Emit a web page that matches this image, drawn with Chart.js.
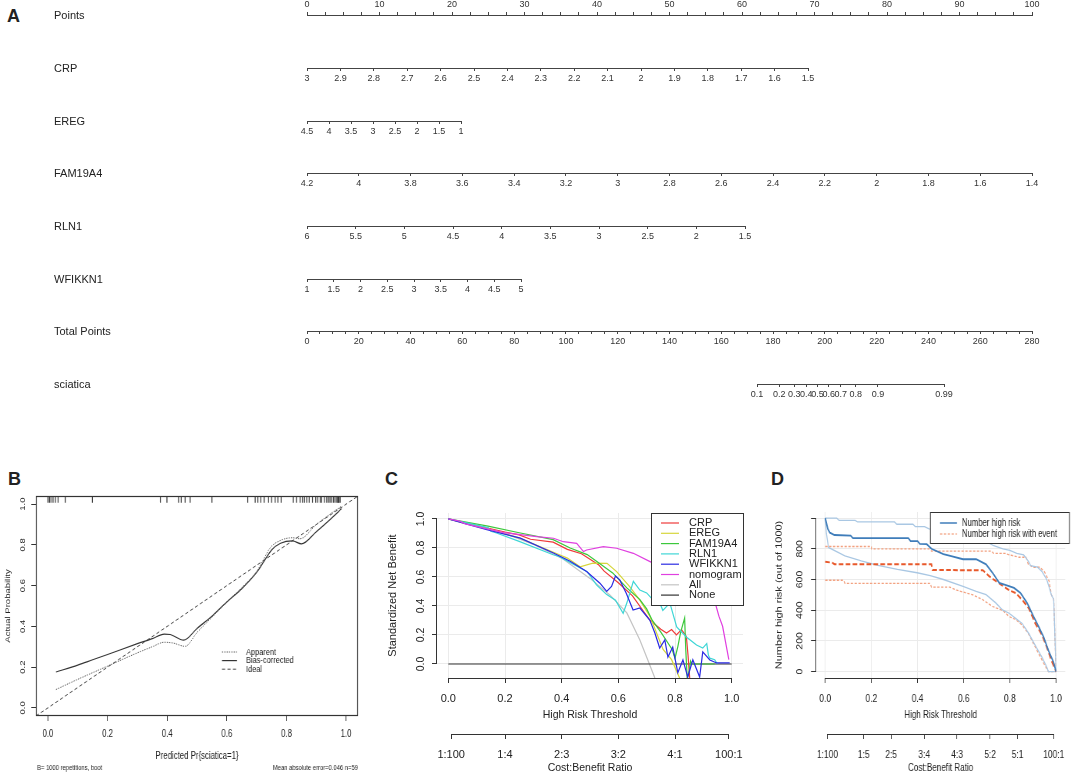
<!DOCTYPE html>
<html>
<head>
<meta charset="utf-8">
<script src="https://cdn.jsdelivr.net/npm/chart.js@4.4.1/dist/chart.umd.min.js"></script>
<style>
  html, body { margin: 0; padding: 0; background: #fff; overflow: hidden; }
  #page { position: relative; width: 1072px; height: 775px; overflow: hidden;
          font-family: 'Liberation Sans', Arial, sans-serif; color: #222; }
  #page canvas { position: absolute; }
  .tag { position: absolute; font-weight: bold; font-size: 18px; line-height: 1; }
  .row-name { position: absolute; left: 54px; font-size: 11px; line-height: 1; transform: translateY(-50%); }
</style>
</head>
<body>
<div id="page">
  <div class="tag" style="left:7px;top:7px">A</div>
  <div class="tag" style="left:8px;top:470px">B</div>
  <div class="tag" style="left:385px;top:470px">C</div>
  <div class="tag" style="left:771px;top:470px">D</div>
</div>
<script>
// ---------- data ----------
// A: nomogram axes (tick labels per row)
const rowNames = ['Points', 'CRP', 'EREG', 'FAM19A4', 'RLN1', 'WFIKKN1', 'Total Points', 'sciatica'];
const pointsTicks = [0, 10, 20, 30, 40, 50, 60, 70, 80, 90, 100];
const crpTicks = [3, 2.9, 2.8, 2.7, 2.6, 2.5, 2.4, 2.3, 2.2, 2.1, 2, 1.9, 1.8, 1.7, 1.6, 1.5];
const eregTicks = [4.5, 4, 3.5, 3, 2.5, 2, 1.5, 1];
const famTicks = [4.2, 4, 3.8, 3.6, 3.4, 3.2, 3, 2.8, 2.6, 2.4, 2.2, 2, 1.8, 1.6, 1.4];
const rlnTicks = [6, 5.5, 5, 4.5, 4, 3.5, 3, 2.5, 2, 1.5];
const wfTicks = [1, 1.5, 2, 2.5, 3, 3.5, 4, 4.5, 5];
const totalTicks = [0, 20, 40, 60, 80, 100, 120, 140, 160, 180, 200, 220, 240, 260, 280];
const riskTicks = [0.1, 0.2, 0.3, 0.4, 0.5, 0.6, 0.7, 0.8, 0.9, 0.99];

// B: calibration
const probTicks = [0, 0.2, 0.4, 0.6, 0.8, 1];
const rugPred = [0, 0.005, 0.01, 0.017, 0.025, 0.034, 0.058, 0.149, 0.377, 0.399, 0.438, 0.447, 0.46, 0.477,
  0.55, 0.67, 0.695, 0.704, 0.714, 0.725, 0.74, 0.75, 0.762, 0.771, 0.782, 0.823, 0.834, 0.846, 0.853, 0.86,
  0.868, 0.876, 0.887, 0.898, 0.905, 0.913, 0.918, 0.927, 0.935, 0.941, 0.946, 0.952, 0.958, 0.963, 0.969,
  0.972, 0.974, 0.976, 0.98];
const apparentCal = [[0.027, 0.09], [0.1, 0.14], [0.2, 0.205], [0.3, 0.27], [0.35, 0.3], [0.39, 0.322],
  [0.42, 0.318], [0.46, 0.302], [0.5, 0.37], [0.55, 0.445], [0.6, 0.52], [0.65, 0.59], [0.7, 0.67],
  [0.72, 0.72], [0.745, 0.785], [0.78, 0.822], [0.82, 0.835], [0.845, 0.83], [0.9, 0.9], [0.95, 0.955], [0.985, 0.99]];
const biasCal = [[0.027, 0.176], [0.1, 0.21], [0.15, 0.236], [0.2, 0.262], [0.3, 0.315], [0.35, 0.34],
  [0.39, 0.362], [0.41, 0.36], [0.455, 0.332], [0.5, 0.39], [0.55, 0.45], [0.6, 0.52], [0.65, 0.585],
  [0.7, 0.665], [0.725, 0.72], [0.75, 0.775], [0.78, 0.808], [0.82, 0.82], [0.85, 0.805], [0.9, 0.865],
  [0.95, 0.93], [0.985, 0.978]];
const idealCal = [[-0.04, -0.04], [1.04, 1.04]];

// C: decision curves (threshold, standardized net benefit)
const costBenefitC = ['1:100', '1:4', '2:3', '3:2', '4:1', '100:1'];
const crpNB = [[0, 1], [0.1, 0.955], [0.2, 0.91], [0.25, 0.89], [0.29, 0.86], [0.37, 0.84], [0.42, 0.79],
  [0.47, 0.76], [0.53, 0.685], [0.55, 0.64], [0.6, 0.56], [0.65, 0.47], [0.69, 0.36], [0.71, 0.306],
  [0.75, 0.24], [0.77, 0.214], [0.788, 0.237], [0.805, 0.2], [0.823, 0.237], [0.84, 0.19], [0.846, 0.06], [0.852, -0.1]];
const eregNB = [[0, 1], [0.05, 0.975], [0.14, 0.93], [0.25, 0.87], [0.31, 0.82], [0.39, 0.755], [0.42, 0.73],
  [0.465, 0.67], [0.51, 0.695], [0.56, 0.694], [0.594, 0.637], [0.64, 0.533], [0.676, 0.44], [0.711, 0.33],
  [0.735, 0.214], [0.758, 0.1], [0.788, 0.03], [0.817, -0.1]];
const famNB = [[0, 1], [0.14, 0.95], [0.25, 0.905], [0.37, 0.857], [0.43, 0.8], [0.49, 0.754], [0.54, 0.685],
  [0.58, 0.628], [0.63, 0.525], [0.676, 0.444], [0.7, 0.38], [0.72, 0.3], [0.75, 0.22], [0.77, 0.16],
  [0.79, 0.1], [0.8, 0.04], [0.81, 0.12], [0.82, 0.22], [0.834, 0.317], [0.838, 0.1], [0.843, -0.1],
  [0.85, -0.05], [0.855, 0.02], [0.86, 0], [0.94, 0]];
const rlnNB = [[0, 1], [0.14, 0.94], [0.15, 0.915], [0.17, 0.903], [0.25, 0.845], [0.37, 0.753], [0.39, 0.742],
  [0.49, 0.637], [0.523, 0.545], [0.558, 0.48], [0.59, 0.44], [0.617, 0.35], [0.63, 0.42], [0.653, 0.57],
  [0.676, 0.51], [0.7, 0.49], [0.723, 0.44], [0.74, 0.45], [0.757, 0.37], [0.782, 0.42], [0.806, 0.255],
  [0.84, 0.186], [0.876, 0.131], [0.898, 0.11], [0.912, 0.14], [0.918, 0.06], [0.923, 0.04], [0.94, 0.03], [0.95, 0]];
const wfNB = [[0, 1], [0.05, 0.972], [0.136, 0.926], [0.254, 0.868], [0.371, 0.765], [0.43, 0.708],
  [0.488, 0.637], [0.535, 0.557], [0.559, 0.5], [0.576, 0.534], [0.59, 0.607], [0.605, 0.58], [0.628, 0.488],
  [0.652, 0.372], [0.676, 0.386], [0.711, 0.303], [0.729, 0.214], [0.746, 0.11], [0.764, 0.166],
  [0.775, 0.048], [0.792, 0.117], [0.81, -0.06], [0.828, 0.028], [0.845, -0.09], [0.863, 0.028],
  [0.887, -0.09], [0.898, 0.083], [0.923, 0.028], [0.947, 0.007], [0.993, 0.007]];
const nomoNB = [[0, 1], [0.04, 0.985], [0.06, 0.966], [0.195, 0.906], [0.312, 0.878], [0.371, 0.867],
  [0.406, 0.843], [0.453, 0.832], [0.477, 0.775], [0.488, 0.786], [0.547, 0.809], [0.594, 0.798],
  [0.653, 0.763], [0.712, 0.706], [0.76, 0.66], [0.82, 0.6], [0.88, 0.52], [0.93, 0.45], [0.945, 0.4],
  [0.955, 0.33], [0.968, 0.26], [0.99, 0.03]];
const allNB = [[0, 1], [0.1, 0.955], [0.2, 0.9], [0.3, 0.825], [0.4, 0.73], [0.5, 0.59], [0.57, 0.476],
  [0.63, 0.352], [0.676, 0.166], [0.704, 0.028], [0.729, -0.097]];
const noneNB = [[0, 0], [1, 0]];

// D: clinical impact (threshold, number out of 1000)
const countTicks = [0, 200, 400, 600, 800, 1000];
const costBenefitD = ['1:100', '1:5', '2:5', '3:4', '4:3', '5:2', '5:1', '100:1'];
const highRisk = [[0, 1000], [0.011, 930], [0.02, 905], [0.04, 890], [0.11, 886], [0.12, 870], [0.36, 870],
  [0.37, 850], [0.4, 850], [0.41, 832], [0.44, 830], [0.46, 800], [0.512, 765], [0.55, 750], [0.597, 732],
  [0.654, 732], [0.697, 699], [0.725, 644], [0.754, 578], [0.79, 560], [0.818, 545], [0.846, 512],
  [0.875, 446], [0.903, 358], [0.925, 292], [0.946, 226], [0.967, 138], [0.989, 62], [1, 0]];
const highRiskHi = [[0, 1000], [0.05, 1000], [0.06, 985], [0.13, 985], [0.14, 975], [0.3, 975], [0.31, 960],
  [0.38, 960], [0.39, 945], [0.43, 945], [0.45, 930], [0.5, 910], [0.53, 900], [0.6, 880], [0.65, 860],
  [0.7, 845], [0.73, 820], [0.77, 800], [0.8, 790], [0.83, 770], [0.86, 760], [0.88, 720], [0.89, 690],
  [0.92, 680], [0.94, 650], [0.96, 600], [0.98, 500], [0.99, 470], [1, 0]];
const highRiskLo = [[0, 1000], [0.005, 900], [0.014, 809], [0.085, 754], [0.156, 721], [0.228, 692],
  [0.313, 666], [0.398, 644], [0.455, 626], [0.512, 600], [0.597, 556], [0.654, 523], [0.697, 501],
  [0.74, 446], [0.768, 402], [0.797, 380], [0.825, 347], [0.853, 314], [0.882, 248], [0.91, 171],
  [0.939, 94], [0.96, 29], [0.967, 0], [1, 0]];
const eventMid = [[0, 715], [0.03, 710], [0.04, 700], [0.46, 700], [0.465, 662], [0.683, 660], [0.71, 622],
  [0.74, 589], [0.768, 560], [0.797, 530], [0.825, 512], [0.853, 468], [0.882, 413], [0.91, 314],
  [0.94, 237], [0.96, 160], [0.98, 73], [1, 0]];
const eventHi = [[0, 815], [0.2, 815], [0.2, 800], [0.45, 800], [0.46, 785], [0.72, 785], [0.73, 770],
  [0.78, 770], [0.8, 760], [0.84, 745], [0.87, 745], [0.88, 700], [0.9, 680], [0.93, 680], [0.95, 650],
  [0.97, 590], [0.98, 500], [0.99, 470], [1, 0]];
const eventLo = [[0, 595], [0.08, 595], [0.085, 575], [0.455, 575], [0.46, 550], [0.54, 550], [0.57, 530],
  [0.64, 500], [0.683, 468], [0.725, 424], [0.77, 398], [0.797, 358], [0.825, 340], [0.853, 303],
  [0.88, 248], [0.91, 160], [0.94, 73], [0.96, 18], [0.967, 0], [1, 0]];

// ---------- helpers ----------
const SANS = "'Liberation Sans', Arial, Helvetica, sans-serif";
Chart.defaults.font.family = SANS;
Chart.defaults.color = '#222';
Chart.defaults.animation = false;
Chart.defaults.events = [];
Chart.defaults.plugins.legend.display = false;
Chart.defaults.plugins.tooltip.enabled = false;
Chart.defaults.elements.point.radius = 0;

const page = document.getElementById('page');
const logit = p => Math.log(p / (1 - p));
const ratioToThreshold = r => { const [c, b] = r.split(':').map(Number); return c / (c + b); };
const xy = pts => pts.map(([x, y]) => ({ x, y }));
const fixTicks = vals => s => { s.ticks = vals.map(v => ({ value: v })); };

// sq < 1 squeezes the panel horizontally (the B and D panels of the figure are narrowed)
function addCanvas(left, top, w, h, sq = 1) {
  const c = document.createElement('canvas');
  const cw = Math.round(w / sq);
  c.width = cw; c.height = h;
  c.style.left = left + 'px'; c.style.top = top + 'px';
  c.style.width = cw + 'px'; c.style.height = h + 'px';
  if (sq !== 1) { c.style.transformOrigin = '0 0'; c.style.transform = 'scaleX(' + sq + ')'; }
  page.appendChild(c);
  return c;
}

// R style axis line: only from first to last tick
Chart.register({
  id: 'rAxis',
  afterDraw(chart, args, o) {
    if (!o.ids) return;
    const ctx = chart.ctx;
    ctx.save();
    ctx.strokeStyle = '#333';
    ctx.lineWidth = 1;
    o.ids.forEach(id => {
      const s = chart.scales[id];
      const a = s.getPixelForValue(s.ticks[0].value);
      const b = s.getPixelForValue(s.ticks[s.ticks.length - 1].value);
      ctx.beginPath();
      if (s.isHorizontal()) {
        const y = Math.round(s.top) + 0.5;
        ctx.moveTo(a, y); ctx.lineTo(b, y);
      } else {
        const x = Math.round(s.right) - 0.5;
        ctx.moveTo(x, a); ctx.lineTo(x, b);
      }
      ctx.stroke();
    });
    ctx.restore();
  }
});

// box around the plot region
Chart.register({
  id: 'rFrame',
  afterDraw(chart, args, o) {
    if (!o.on) return;
    const a = chart.chartArea, ctx = chart.ctx;
    ctx.save();
    ctx.strokeStyle = '#333';
    ctx.lineWidth = 1.2;
    ctx.strokeRect(Math.round(a.left) + 0.5, Math.round(a.top) + 0.5,
      Math.round(a.right - a.left) - 1, Math.round(a.bottom - a.top) - 1);
    ctx.restore();
  }
});

// base-graphics like legend
Chart.register({
  id: 'rLegend',
  afterDraw(chart, args, o) {
    if (!o.items) return;
    const ctx = chart.ctx;
    ctx.save();
    if (o.box) {
      ctx.fillStyle = '#fff';
      ctx.fillRect(o.box.x, o.box.y, o.box.w, o.box.h);
      ctx.strokeStyle = '#333';
      ctx.lineWidth = 1;
      ctx.strokeRect(o.box.x + 0.5, o.box.y + 0.5, o.box.w, o.box.h);
    }
    ctx.font = o.size + 'px ' + SANS;
    ctx.textBaseline = 'middle';
    o.items.forEach((item, i) => {
      const ds = chart.data.datasets.find(d => d.label === item.label);
      const y = o.y + i * o.rowH;
      ctx.strokeStyle = item.color || ds.borderColor;
      ctx.lineWidth = item.width || ds.borderWidth;
      ctx.setLineDash(item.dash || ds.borderDash || []);
      ctx.beginPath();
      ctx.moveTo(o.x, y); ctx.lineTo(o.x + o.len, y);
      ctx.stroke();
      ctx.setLineDash([]);
      ctx.fillStyle = '#222';
      ctx.fillText(item.label, o.x + o.len + o.gap, y);
    });
    ctx.restore();
  }
});

// small free texts
Chart.register({
  id: 'rNotes',
  afterDraw(chart, args, o) {
    if (!o.list) return;
    const ctx = chart.ctx;
    ctx.save();
    ctx.fillStyle = '#222';
    ctx.textBaseline = 'middle';
    o.list.forEach(n => {
      ctx.font = n.size + 'px ' + SANS;
      ctx.textAlign = n.align;
      ctx.fillText(n.text, n.x, n.y);
    });
    ctx.restore();
  }
});

// ---------- A: nomogram ----------
const rowTicks = [pointsTicks, crpTicks, eregTicks, famTicks, rlnTicks, wfTicks, totalTicks, riskTicks];
const rowLayout = [
  { y: 15, from: 307, to: 1032, top: true, minor: 2.5 },
  { y: 68, from: 307, to: 808 },
  { y: 121, from: 307, to: 461 },
  { y: 173, from: 307, to: 1032 },
  { y: 226, from: 307, to: 745 },
  { y: 279, from: 307, to: 521 },
  { y: 331, from: 307, to: 1032, minor: 5 },
  { y: 384, from: 757, to: 944, logit: true }
];

rowNames.forEach((name, i) => {
  const lay = rowLayout[i];
  const vals = rowTicks[i];
  const pos = lay.logit ? vals.map(logit) : vals;
  const lo = Math.min(...pos), hi = Math.max(...pos);
  const axisH = 15, areaH = 2;
  const cv = addCanvas(0, lay.top ? lay.y - axisH : lay.y - areaH, 1072, axisH + areaH);

  const lab = document.createElement('div');
  lab.className = 'row-name';
  lab.style.top = lay.y + 'px';
  lab.textContent = name;
  page.appendChild(lab);

  let tickVals = pos;
  if (lay.minor) {
    tickVals = [];
    for (let v = lo; v <= hi + 1e-9; v += lay.minor) tickVals.push(v);
  }

  new Chart(cv, {
    type: 'line',
    data: { datasets: [] },
    options: {
      responsive: false,
      layout: { padding: { left: lay.from, right: 1072 - lay.to, top: 0, bottom: 0 } },
      scales: {
        x: {
          type: 'linear',
          position: lay.top ? 'top' : 'bottom',
          min: lo, max: hi,
          reverse: pos[0] > pos[pos.length - 1],
          afterBuildTicks: fixTicks(tickVals),
          afterFit: s => { s.height = axisH; },
          grid: { drawOnChartArea: false, tickLength: 3, tickColor: '#444' },
          border: { color: '#444', width: 1 },
          ticks: {
            autoSkip: false, minRotation: 0, maxRotation: 0, padding: 2,
            font: { size: 9 }, color: '#333',
            callback: v => {
              const k = pos.findIndex(p => Math.abs(p - v) < 1e-6);
              return k < 0 ? '' : String(vals[k]);
            }
          }
        },
        y: { display: false }
      }
    }
  });
});

// ---------- B: calibration curve ----------
const sqB = 0.78;
new Chart(addCanvas(0, 470, 365, 305, sqB), {
  type: 'line',
  data: {
    datasets: [
      { label: 'Apparent', data: xy(apparentCal), borderColor: '#555', borderWidth: 1, borderDash: [1.5, 1.5], cubicInterpolationMode: 'monotone' },
      { label: 'Bias-corrected', data: xy(biasCal), borderColor: '#333', borderWidth: 1.2, cubicInterpolationMode: 'monotone' },
      { label: 'Ideal', data: xy(idealCal), borderColor: '#444', borderWidth: 1, borderDash: [4, 3] },
      { label: 'rug', type: 'scatter', data: rugPred.map(p => ({ x: p, y: 1.022 })),
        pointStyle: 'line', pointRadius: 3, pointRotation: 90, borderColor: '#333', pointBorderColor: '#333', pointBorderWidth: 1.2 }
    ]
  },
  options: {
    responsive: false,
    layout: { padding: { left: 0, right: 7 / sqB, top: 26, bottom: 0 } },
    plugins: {
      rFrame: { on: true },
      rLegend: {
        x: 222 / sqB, y: 182, rowH: 8.6, len: 15 / sqB, gap: 9 / sqB, size: 9.5,
        items: [{ label: 'Apparent' }, { label: 'Bias-corrected' }, { label: 'Ideal' }]
      },
      rNotes: {
        list: [
          { text: 'B= 1000 repetitions, boot', x: 37 / sqB, y: 298, size: 7.5, align: 'left' },
          { text: 'Mean absolute error=0.046 n=59', x: 358 / sqB, y: 298, size: 7.5, align: 'right' }
        ]
      }
    },
    scales: {
      x: {
        type: 'linear', min: -0.04, max: 1.04,
        afterBuildTicks: fixTicks(probTicks),
        afterFit: s => { s.height = 59; },
        grid: { drawOnChartArea: false, tickLength: 5, tickColor: '#333' },
        border: { display: false },
        ticks: { autoSkip: false, maxRotation: 0, padding: 7, font: { size: 10 }, callback: v => v.toFixed(1) },
        title: { display: true, text: 'Predicted Pr{sciatica=1}', font: { size: 10 }, padding: { top: 0, bottom: 13 } }
      },
      y: {
        min: -0.04, max: 1.04,
        afterBuildTicks: fixTicks(probTicks),
        afterFit: s => { s.width = 36 / sqB; },
        grid: { drawOnChartArea: false, tickLength: 6, tickColor: '#333' },
        border: { display: false },
        ticks: { padding: 4, minRotation: 90, maxRotation: 90, crossAlign: 'center', font: { size: 9.5 }, callback: v => v.toFixed(1) },
        title: { display: true, text: 'Actual Probability', font: { size: 9.5 }, padding: { top: 4.6, bottom: 0 } }
      }
    }
  }
});

// ---------- shared axis setup for C and D ----------
function thresholdAxes(ratios, yOpts) {
  return {
    x: {
      type: 'linear', min: -0.04, max: 1.04, weight: 0,
      afterBuildTicks: fixTicks(probTicks),
      afterFit: s => { s.height = 56; },
      grid: { color: '#ebebeb', tickLength: 5, tickColor: '#333' },
      border: { display: false },
      ticks: { autoSkip: false, maxRotation: 0, padding: 9, font: { size: 11 }, callback: v => v.toFixed(1) },
      title: { display: true, text: 'High Risk Threshold', font: { size: 10.5 }, padding: { top: 0, bottom: 12.7 } }
    },
    x2: {
      type: 'linear', position: 'bottom', min: -0.04, max: 1.04, weight: 1,
      afterBuildTicks: fixTicks(ratios.map(ratioToThreshold)),
      afterFit: s => { s.height = 41; },
      grid: { drawOnChartArea: false, tickLength: 5, tickColor: '#333' },
      border: { display: false },
      ticks: { autoSkip: false, maxRotation: 0, padding: 9.4, font: { size: 11 }, callback: (v, i) => ratios[i] },
      title: { display: true, text: 'Cost:Benefit Ratio', font: { size: 10.5 }, padding: { top: 0, bottom: 0.7 } }
    },
    y: Object.assign({
      border: { display: false }
    }, yOpts)
  };
}

// ---------- C: decision curves ----------
const lineC = (label, data, color) => ({ label, data: xy(data), borderColor: color, borderWidth: 1.2 });
new Chart(addCanvas(380, 470, 375, 305), {
  type: 'line',
  data: {
    datasets: [
      lineC('nomogram', nomoNB, '#e040e0'),
      lineC('WFIKKN1', wfNB, '#2b2be3'),
      lineC('RLN1', rlnNB, '#3fd6d6'),
      lineC('FAM19A4', famNB, '#3cc83c'),
      lineC('EREG', eregNB, '#d6d63c'),
      lineC('CRP', crpNB, '#ee3a3a'),
      lineC('None', noneNB, '#333333'),
      lineC('All', allNB, '#c4c4c4')
    ]
  },
  options: {
    responsive: false,
    layout: { padding: { left: 0, right: 12, top: 43, bottom: 0 } },
    plugins: {
      rAxis: { ids: ['x', 'x2', 'y'] },
      rLegend: {
        box: { x: 271, y: 43, w: 92, h: 92 },
        x: 281, y: 53, rowH: 10.3, len: 18, gap: 10, size: 11,
        items: ['CRP', 'EREG', 'FAM19A4', 'RLN1', 'WFIKKN1', 'nomogram', 'All', 'None'].map(label => ({ label }))
      }
    },
    scales: thresholdAxes(costBenefitC, {
      min: -0.0966, max: 1.041,
      afterBuildTicks: fixTicks(probTicks),
      afterFit: s => { s.width = 57; },
      grid: { color: '#ebebeb', tickLength: 5, tickColor: '#333' },
      ticks: { padding: 4, minRotation: 90, maxRotation: 90, crossAlign: 'center', font: { size: 10.5 }, callback: v => v.toFixed(1) },
      title: { display: true, text: 'Standardized Net Benefit', font: { size: 11 }, padding: { top: 6.4, bottom: 0 } }
    })
  }
});

// ---------- D: clinical impact ----------
const sqD = 0.77;
new Chart(addCanvas(760, 470, 312, 305, sqD), {
  type: 'line',
  data: {
    datasets: [
      { label: 'Number high risk', data: xy(highRisk), borderColor: '#3f7dba', borderWidth: 1.8 },
      { label: 'Number high risk with event', data: xy(eventMid), borderColor: '#e8582a', borderWidth: 2, borderDash: [6, 3] },
      { label: 'high risk upper', data: xy(highRiskHi), borderColor: '#a9c7e3', borderWidth: 1.3 },
      { label: 'high risk lower', data: xy(highRiskLo), borderColor: '#a9c7e3', borderWidth: 1.3 },
      { label: 'event upper', data: xy(eventHi), borderColor: '#f2a07f', borderWidth: 1.3, borderDash: [3, 2] },
      { label: 'event lower', data: xy(eventLo), borderColor: '#f2a07f', borderWidth: 1.3, borderDash: [3, 2] }
    ]
  },
  options: {
    responsive: false,
    layout: { padding: { left: 0, right: 2.9 / sqD, top: 42, bottom: 0 } },
    plugins: {
      rAxis: { ids: ['x', 'x2', 'y'] },
      rLegend: {
        box: { x: 170 / sqD, y: 42, w: 139 / sqD, h: 31 },
        x: 180 / sqD, y: 53, rowH: 11, len: 17 / sqD, gap: 5 / sqD, size: 10,
        items: [
          { label: 'Number high risk', width: 1.5 },
          { label: 'Number high risk with event', color: '#f08a60', width: 1.2, dash: [3, 2] }
        ]
      }
    },
    scales: thresholdAxes(costBenefitD, {
      min: -42, max: 1040,
      afterBuildTicks: fixTicks(countTicks),
      afterFit: s => { s.width = 56 / sqD; },
      grid: { color: '#ebebeb', tickLength: 6.5, tickColor: '#333' },
      ticks: { padding: 5.4, minRotation: 90, maxRotation: 90, crossAlign: 'center', font: { size: 10.5 }, callback: v => (v === 1000 ? '' : String(v)) },
      title: { display: true, text: 'Number high risk (out of 1000)', font: { size: 11 }, padding: { top: 18, bottom: 0 } }
    })
  }
});
</script>
</body>
</html>
